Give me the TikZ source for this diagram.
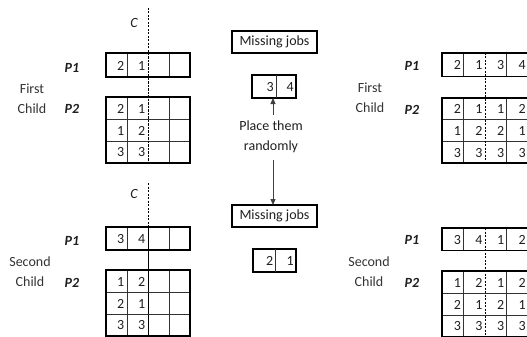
\documentclass[tikz,border=0pt]{standalone}
\usepackage{fontspec}
\setmainfont{Carlito}
\usetikzlibrary{arrows.meta}
\definecolor{ink}{HTML}{1F1F1F}
\definecolor{arrowgray}{HTML}{404040}

% job grid: name, x0, y0, cell width, row height, number of rows, rows of entries
\newcommand\jobgrid[7]{%
  \foreach \row [count=\r from 0] in {#7} {
    \foreach \v [count=\c] in \row {
      \node[num] (#1-\r-\c) at ({#2+\c*#4-2.5},{#3+(\r+0.5)*#5+0.5}) {\v};
    }
  }
  \ifnum#6>1
    \foreach \k in {2,...,#6} {
      \draw[cellline] (#2,{#3+(\k-1)*#5}) -- ++({4*#4},0);
    }
  \fi
  \draw[cellline] ({#2+#4},#3) -- ++(0,{#6*#5});
  \draw[cellline] ({#2+3*#4},#3) -- ++(0,{#6*#5});
  \node[frame, minimum width={4*#4pt}, minimum height={#6*#5pt}, anchor=north west] (#1) at (#2,#3) {};
}

\begin{document}
\begin{tikzpicture}[x=1pt,y=-1pt,
  txt/.style={font=\fontsize{14}{20}\selectfont, text=ink, inner sep=0},
  num/.style={txt, anchor=east},
  plabel/.style={txt, font=\fontsize{14}{14}\selectfont\bfseries\itshape},
  clabel/.style={txt, font=\fontsize{14}{14}\selectfont\itshape},
  childlabel/.style={txt, align=center, text=arrowgray!80!black},
  frame/.style={draw=black, line width=1.8pt, inner sep=0, outer sep=0},
  cellline/.style={draw=black!80, line width=0.7pt},
  cutline/.style={draw=black, line width=0.7pt, dash pattern=on 2pt off 1.5pt},
  jobbox/.style={frame, line width=1.6pt, txt, minimum width=85pt, minimum height=22pt},
  flow/.style={draw=arrowgray, line width=1pt, -{Triangle[length=6pt,width=5pt]}}
]
\useasboundingbox (0,0) rectangle (527,337);

% ---------- first child, before filling ----------
\draw[cutline] (148,8) -- (148,163);
\node[clabel] (cA) at (134,23) {C};
\jobgrid{LP1}{106}{53}{21}{24}{1}{{2,1,{},{}}}
\jobgrid{LP2}{106}{97}{21}{22}{3}{{2,1,{},{}},{1,2,{},{}},{3,3,{},{}}}
\draw[cutline] (148,53) -- (148,163);
\node[plabel] (lp1) at (72,68) {P1};
\node[plabel] (lp2) at (72,109) {P2};
\node[childlabel] (fc1) at (32,99) {First\\Child};

% ---------- second child, before filling ----------
\draw[cutline] (148,183) -- (148,337);
\node[clabel] (cB) at (134,194) {C};
\jobgrid{LQ1}{106}{227}{21}{23}{1}{{3,4,{},{}}}
\jobgrid{LQ2}{106}{270}{21}{22}{3}{{1,2,{},{}},{2,1,{},{}},{3,3,{},{}}}
\draw[cutline] (148,227) -- (148,337);
\node[plabel] (lq1) at (72,241) {P1};
\node[plabel] (lq2) at (72,283) {P2};
\node[childlabel] (sc1) at (30,272) {Second\\Child};

% ---------- middle: missing jobs ----------
\node[jobbox] (mj1) at (274.5,42) {Missing jobs};
\node[frame, minimum width=44pt, minimum height=23pt] (m34) at (274,86.5) {};
\draw[cellline] (276,75) -- (276,98);
\node[num] (m3) at (274,87) {3};
\node[num] (m4) at (294,87) {4};

\node[txt, align=center] (place) at (271,137) {Place them\\randomly};
\coordinate (upstart) at (273,115);
\draw[flow] (upstart) -- (upstart |- m34.south);

\node[jobbox] (mj2) at (274.5,216) {Missing jobs};
\node[frame, minimum width=43pt, minimum height=23pt] (m21) at (274.5,260.5) {};
\draw[cellline] (275.7,249) -- (275.7,272);
\node[num] (m2) at (273.5,261) {2};
\node[num] (m1) at (294,261) {1};
\coordinate (downstart) at (273,160);
\draw[flow] (downstart) -- (downstart |- mj2.north);

% ---------- first child, filled ----------
\jobgrid{RP1}{442}{53}{21.6}{23.5}{1}{{2,1,3,4}}
\jobgrid{RP2}{442}{98}{21.6}{21.7}{3}{{2,1,1,2},{1,2,2,1},{3,3,3,3}}
\draw[cutline] (485.2,53) -- (485.2,163);
\node[plabel] (rp1) at (412,66) {P1};
\node[plabel] (rp2) at (412,110) {P2};
\node[childlabel] (fc2) at (370,98) {First\\Child};

% ---------- second child, filled ----------
\jobgrid{RQ1}{442}{228}{21.6}{22.5}{1}{{3,4,1,2}}
\jobgrid{RQ2}{442}{271}{21.6}{22}{3}{{1,2,1,2},{2,1,2,1},{3,3,3,3}}
\draw[cutline] (485.2,228) -- (485.2,337);
\node[plabel] (rq1) at (412,240) {P1};
\node[plabel] (rq2) at (412,283) {P2};
\node[childlabel] (sc2) at (369,272) {Second\\Child};
\end{tikzpicture}
\end{document}
